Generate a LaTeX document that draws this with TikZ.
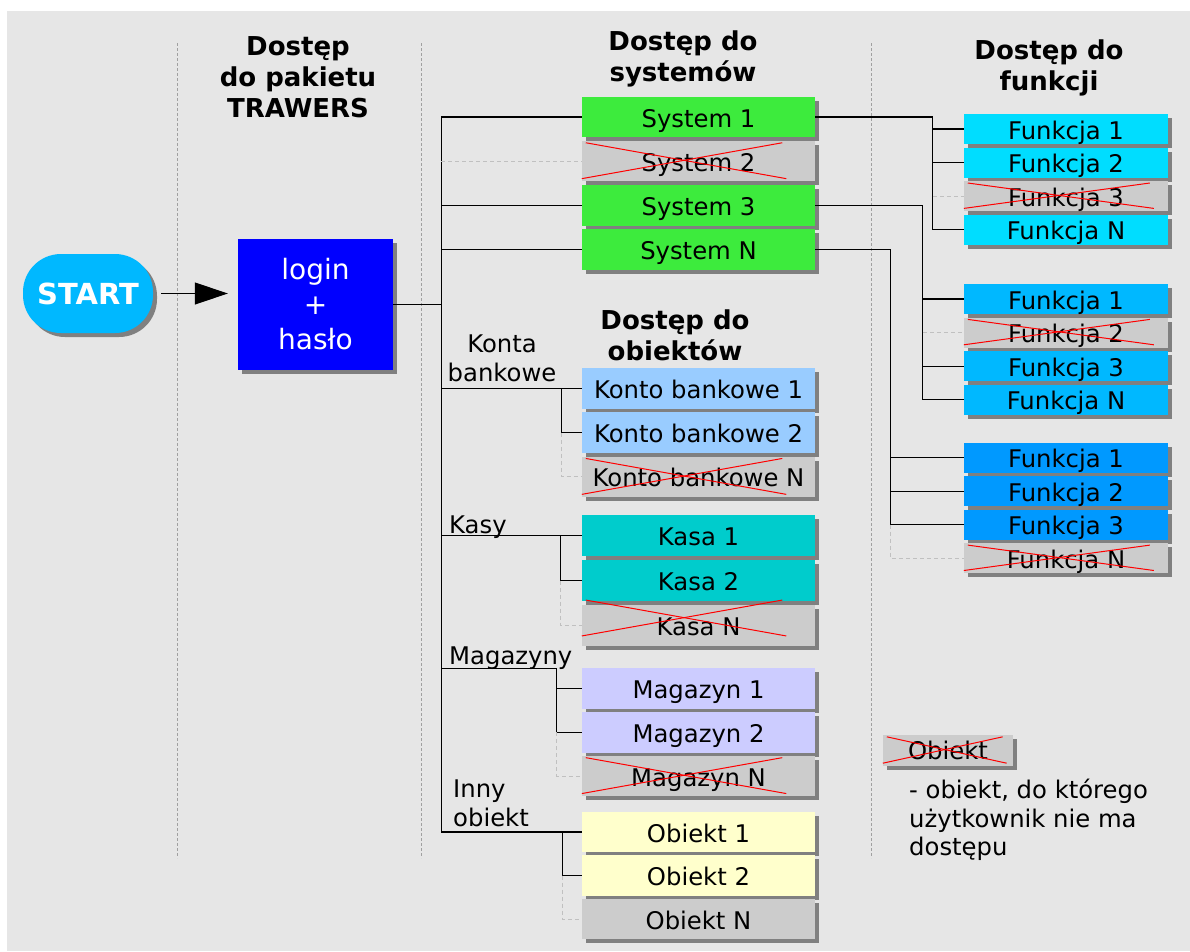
\documentclass[tikz,border=0pt]{standalone}
\usepackage{fontspec}
\setmainfont{DejaVu Sans}
\usetikzlibrary{arrows.meta,shadows,calc}

\definecolor{tlo}{HTML}{E6E6E6}
\definecolor{cienszary}{HTML}{808080}
\definecolor{szary}{HTML}{CCCCCC}
\definecolor{zielony}{HTML}{3DEB3D}
\definecolor{funA}{HTML}{00DDFF}
\definecolor{funB}{HTML}{00B8FF}
\definecolor{funC}{HTML}{0099FF}
\definecolor{startblue}{HTML}{00B8FF}
\definecolor{loginblue}{HTML}{0000FF}
\definecolor{konto}{HTML}{99CCFF}
\definecolor{kasa}{HTML}{00CCCC}
\definecolor{magazyn}{HTML}{CCCCFF}
\definecolor{obiekt}{HTML}{FFFFCC}
\definecolor{sepgray}{HTML}{A0A0A0}
\definecolor{ghostgray}{HTML}{C0C0C0}

\tikzset{
  zcieniem/.style={drop shadow={shadow xshift=4pt, shadow yshift=-4pt, fill=cienszary, opacity=1}},
  box/.style={zcieniem, inner sep=0pt, minimum width=233pt, minimum height=40.5pt,
    text height=21pt, text depth=1pt, font=\fontsize{24.3}{28}\selectfont},
  funbox/.style={box, minimum width=204pt, minimum height=30pt},
  hdr/.style={font=\bfseries\fontsize{26}{31}\selectfont, align=center, inner sep=0pt},
  lbl/.style={font=\fontsize{24.3}{28.5}\selectfont, inner sep=0pt},
  conn/.style={line width=1.1pt},
  ghost/.style={draw=ghostgray, dash pattern=on 4pt off 3pt, line width=1pt},
  sep/.style={draw=sepgray, dash pattern=on 3pt off 2pt, line width=1pt},
  krzyz/.style={draw=red, line width=1pt},
  startnode/.style={zcieniem, fill=startblue, rounded corners=38pt, minimum width=130pt,
    minimum height=79pt, inner sep=0pt, text=white, font=\bfseries\fontsize{29}{34}\selectfont},
  loginnode/.style={zcieniem, fill=loginblue, minimum width=155pt, minimum height=131pt,
    inner sep=0pt, text=white, align=center, font=\fontsize{28}{35}\selectfont}
}

\newcommand{\skresl}[3][0]{%
  \draw[krzyz] ($(#2.north west)+(4,2-#1)$) -- ($(#2.south west)!#3!(#2.south east)+(0,-3-#1)$);
  \draw[krzyz] ($(#2.south west)+(0,-3-#1)$) -- ($(#2.north west)!#3!(#2.north east)+(-4,2-#1)$);}

\begin{document}
\begin{tikzpicture}[x=1pt, y=-1pt]
\useasboundingbox (0,0) rectangle (1190,951);
\fill[tlo] (7,11) rectangle (1190,951);
\draw[sep] (177,43) -- (177,858);
\draw[sep] (421,43) -- (421,858);
\draw[sep] (871,43) -- (871,858);

\node[hdr] (hpak) at (298,77) {Dostęp\\do pakietu\\TRAWERS};
\node[hdr] (hsys) at (683,58.5) {Dostęp do\\systemów};
\node[hdr] (hfun) at (1049,68) {Dostęp do\\funkcji};
\node[hdr] (hobj) at (675,335.5) {Dostęp do\\obiektów};

\node[startnode] (start) at (88,293.5) {START};
\node[loginnode] (login) at (315.5,304.5) {login\\+\\hasło};
\draw[conn, -{Triangle[length=33pt,width=22pt]}, shorten <=8pt, shorten >=10pt] (start.east) -- (start.east -| login.west);
\draw[conn] (login.east) -- ++(48,0) coordinate (hub);

\node[box, fill=zielony] (sys1) at (698.5,117) {System 1};
\node[box, fill=szary] (sys2) at (698.5,161.2) {System 2};
\node[box, fill=zielony] (sys3) at (698.5,205.4) {System 3};
\node[box, fill=zielony] (sysN) at (698.5,249.6) {System N};

\node[funbox, fill=funA] (fa1) at (1066,129) {Funkcja 1};
\node[funbox, fill=funA] (fa2) at (1066,162.6) {Funkcja 2};
\node[funbox, fill=szary] (fa3) at (1066,196.2) {Funkcja 3};
\node[funbox, fill=funA] (faN) at (1066,229.8) {Funkcja N};

\node[funbox, fill=funB] (fb1) at (1066,299) {Funkcja 1};
\node[funbox, fill=szary] (fb2) at (1066,332.6) {Funkcja 2};
\node[funbox, fill=funB] (fb3) at (1066,366.2) {Funkcja 3};
\node[funbox, fill=funB] (fbN) at (1066,399.8) {Funkcja N};

\node[funbox, fill=funC] (fc1) at (1066,457.5) {Funkcja 1};
\node[funbox, fill=funC] (fc2) at (1066,491.1) {Funkcja 2};
\node[funbox, fill=funC] (fc3) at (1066,524.7) {Funkcja 3};
\node[funbox, fill=szary] (fcN) at (1066,558.3) {Funkcja N};

\node[box, fill=konto] (konto1) at (698.5,388.5) {Konto bankowe 1};
\node[box, fill=konto] (konto2) at (698.5,432.7) {Konto bankowe 2};
\node[box, fill=szary] (kontoN) at (698.5,476.9) {Konto bankowe N};

\node[box, fill=kasa] (kasa1) at (698.5,535.5) {Kasa 1};
\node[box, fill=kasa] (kasa2) at (698.5,580.5) {Kasa 2};
\node[box, fill=szary] (kasaN) at (698.5,625.5) {Kasa N};

\node[box, fill=magazyn] (mag1) at (698.5,688.5) {Magazyn 1};
\node[box, fill=magazyn] (mag2) at (698.5,732.3) {Magazyn 2};
\node[box, fill=szary] (magN) at (698.5,776.1) {Magazyn N};

\node[box, fill=obiekt] (obj1) at (698.5,832) {Obiekt 1};
\node[box, fill=obiekt] (obj2) at (698.5,875.5) {Obiekt 2};
\node[box, fill=szary] (objN) at (698.5,919) {Obiekt N};

\node[lbl, align=center, anchor=south] (lkonta) at (502,382) {Konta\\bankowe};
\node[lbl, anchor=base west] (lkasy) at (449,533) {Kasy};
\node[lbl, anchor=base west] (lmag) at (449,664) {Magazyny};
\node[lbl, align=left, anchor=south west] (linny) at (453,827) {Inny\\obiekt};

\node[box, fill=szary, minimum width=130pt, minimum height=31pt, text height=18pt] (leg) at (948,750.5) {Obiekt};
\node[lbl, align=left, anchor=north west] (legtxt) at (909,779) {- obiekt, do którego\\użytkownik nie ma\\dostępu};

\draw[conn] (hub) |- (sys1.west);
\draw[conn] (hub) |- (sys3.west);
\draw[conn] (hub) |- (sysN.west);
\draw[ghost] (hub |- sys2.west) -- (sys2.west);
\draw[conn] (hub) |- (obj1.west);

\draw[conn] (hub |- konto1.west) -- (konto1.west);
\draw[conn] ([xshift=-20pt]konto1.west) |- (konto2.west);
\draw[ghost] ([xshift=-20pt]konto2.west) |- (kontoN.west);
\draw[conn] (hub |- kasa1.west) -- (kasa1.west);
\draw[conn] ([xshift=-21pt]kasa1.west) |- (kasa2.west);
\draw[ghost] ([xshift=-21pt]kasa2.west) |- (kasaN.west);
\draw[conn] (hub |- mag1.north) -| ([xshift=-25pt]mag2.west) -- (mag2.west);
\draw[conn] ([xshift=-25pt]mag1.west) -- (mag1.west);
\draw[ghost] ([xshift=-25pt]mag2.west) |- (magN.west);
\draw[conn] ([xshift=-19pt]obj1.west) |- (obj2.west);
\draw[ghost] ([xshift=-19pt]obj2.west) |- (objN.west);

\draw[conn] (sys1.east) -| ([xshift=-31pt]faN.west) -- (faN.west);
\draw[conn] ([xshift=-31pt]fa1.west) -- (fa1.west);
\draw[conn] ([xshift=-31pt]fa2.west) -- (fa2.west);
\draw[ghost] ([xshift=-31pt]fa3.west) -- (fa3.west);
\draw[conn] (sys3.east) -| ([xshift=-41pt]fbN.west) -- (fbN.west);
\draw[conn] ([xshift=-41pt]fb1.west) -- (fb1.west);
\draw[ghost] ([xshift=-41pt]fb2.west) -- (fb2.west);
\draw[conn] ([xshift=-41pt]fb3.west) -- (fb3.west);
\draw[conn] (sysN.east) -| ([xshift=-73pt]fc3.west) -- (fc3.west);
\draw[conn] ([xshift=-73pt]fc1.west) -- (fc1.west);
\draw[conn] ([xshift=-73pt]fc2.west) -- (fc2.west);
\draw[ghost] ([xshift=-73pt]fc3.west) |- (fcN.west);

\skresl{sys2}{0.876}
\skresl{kontoN}{0.876}
\skresl[7]{kasaN}{0.876}
\skresl{magN}{0.876}
\skresl{fa3}{0.93}
\skresl{fb2}{0.93}
\skresl{fcN}{0.93}
\skresl{leg}{0.95}
\end{tikzpicture}
\end{document}
